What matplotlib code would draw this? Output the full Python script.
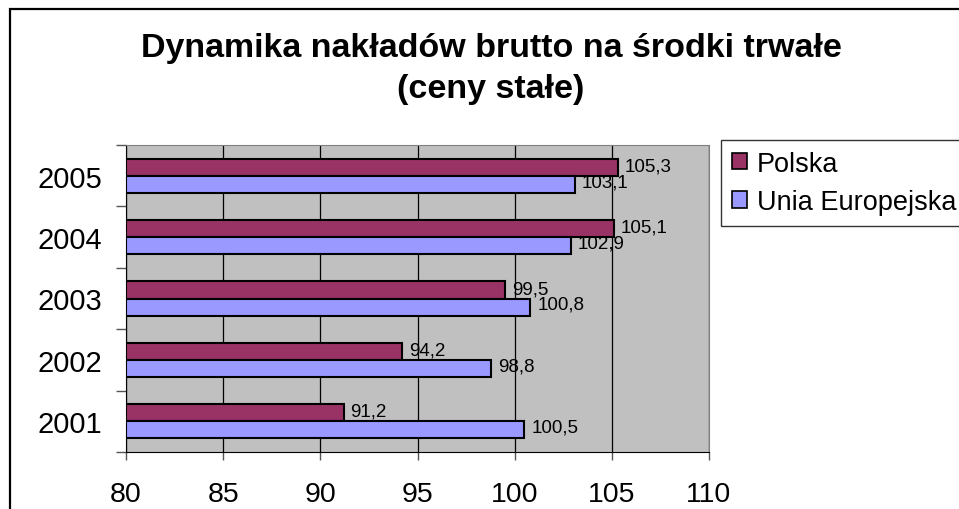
import numpy as np
import matplotlib
matplotlib.use("Agg")
import matplotlib.pyplot as plt
from matplotlib.patches import Rectangle, Patch

plt.rcParams['font.family'] = ['Liberation Sans', 'DejaVu Sans']

years = ['2001', '2002', '2003', '2004', '2005']
polska = [91.2, 94.2, 99.5, 105.1, 105.3]
unia = [100.5, 98.8, 100.8, 102.9, 103.1]
x_ticks = [80, 85, 90, 95, 100, 105, 110]

col_pl = '#993366'
col_eu = '#9999FF'


def fmt(v):
    return f"{v:.1f}".replace('.', ',')


fig = plt.figure(figsize=(9.59, 5.10), dpi=100)

# outer chart frame (right and bottom edges fall outside the picture)
fig.patches.append(Rectangle((10 / 959, -0.2), 1.2, 1.2 - 10 / 510, transform=fig.transFigure,
                             fill=False, edgecolor='black', linewidth=1.6, zorder=0))

fig.text(0.512, 1 - 57 / 510, 'Dynamika nakładów brutto na środki trwałe', ha='center', va='baseline',
         fontsize=24.5, fontweight='bold')
fig.text(0.512, 1 - 98 / 510, '(ceny stałe)', ha='center', va='baseline', fontsize=24.5, fontweight='bold')

ax = fig.add_axes([126 / 959, 1 - 453 / 510, (709 - 126) / 959, (453 - 146) / 510])
ax.set_facecolor('#C0C0C0')

y = np.arange(len(years))
h = 0.28
ax.barh(y + h / 2, [v - 80 for v in polska], left=80, height=h, color=col_pl,
        edgecolor='black', linewidth=1.5, zorder=3)
ax.barh(y - h / 2, [v - 80 for v in unia], left=80, height=h, color=col_eu,
        edgecolor='black', linewidth=1.5, zorder=3)

for yi, v in zip(y, polska):
    ax.annotate(fmt(v), (v, yi + h / 2), xytext=(5, 1), textcoords='offset points',
                ha='left', va='center', fontsize=13.5, zorder=4)
for yi, v in zip(y, unia):
    ax.annotate(fmt(v), (v, yi - h / 2), xytext=(5, 2), textcoords='offset points',
                ha='left', va='center', fontsize=13.5, zorder=4)

ax.set_xlim(80, 110)
ax.set_ylim(-0.5, 4.5)
ax.set_xticks(x_ticks)
ax.set_xticklabels([str(t) for t in x_ticks], fontsize=20.5)
ax.xaxis.grid(True, color='black', linewidth=0.9, zorder=1)
ax.set_axisbelow(True)
ax.tick_params(axis='x', direction='out', length=6, width=1, color='#555555', pad=15)

ax.set_yticks(np.arange(-0.5, 5, 1))
ax.set_yticklabels([])
ax.set_yticks(y, minor=True)
ax.set_yticklabels(years, minor=True, fontsize=21)
ax.tick_params(axis='y', which='major', direction='out', length=7, width=1, color='#555555')
ax.tick_params(axis='y', which='minor', length=0, pad=17)

for s in ['top', 'right']:
    ax.spines[s].set_color('#808080')
for s in ['left', 'bottom']:
    ax.spines[s].set_color('black')

handles = [Patch(facecolor=col_pl, edgecolor='black', linewidth=1.2),
           Patch(facecolor=col_eu, edgecolor='black', linewidth=1.2)]
leg = fig.legend(handles, ['Polska', 'Unia Europejska'], loc='upper left',
                 bbox_to_anchor=(721 / 959, 1 - 141 / 510), fontsize=19.5,
                 handlelength=0.55, handleheight=0.55, handletextpad=0.37,
                 labelspacing=0.45, borderpad=0.4, borderaxespad=0, fancybox=False,
                 frameon=True)
leg.get_frame().set_edgecolor('black')
leg.get_frame().set_linewidth(1.0)

fig.savefig('out.png', dpi=100)
